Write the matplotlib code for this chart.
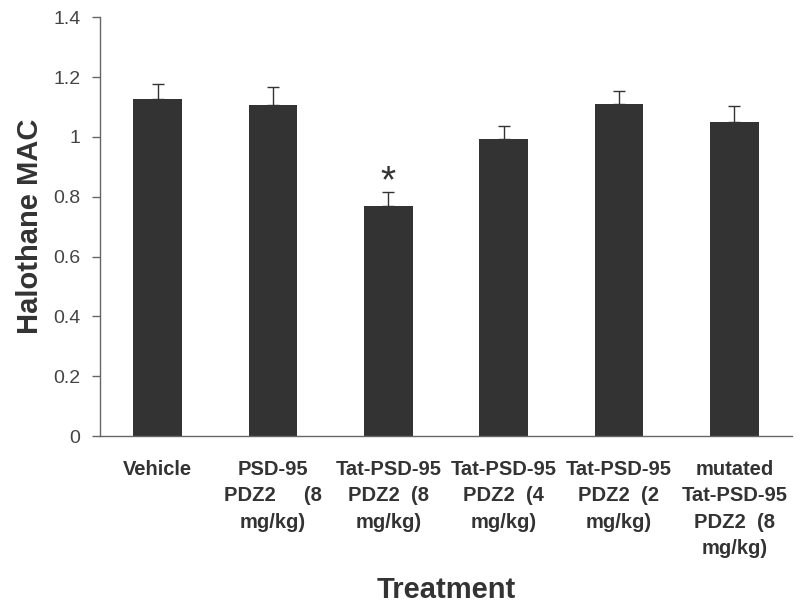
import numpy as np
import matplotlib
matplotlib.use("Agg")
from matplotlib import pyplot as plt

plt.rcParams['font.family'] = ['Liberation Sans', 'DejaVu Sans']

# data
treatments = [
    "Vehicle",
    "PSD-95\nPDZ2     (8\nmg/kg)",
    "Tat-PSD-95\nPDZ2  (8\nmg/kg)",
    "Tat-PSD-95\nPDZ2  (4\nmg/kg)",
    "Tat-PSD-95\nPDZ2  (2\nmg/kg)",
    "mutated\nTat-PSD-95\nPDZ2  (8\nmg/kg)",
]
mac_mean = [1.125, 1.107, 0.768, 0.992, 1.109, 1.049]
mac_sem = [0.053, 0.060, 0.048, 0.044, 0.044, 0.054]
significant = [False, False, True, False, False, False]

y_ticks = [0, 0.2, 0.4, 0.6, 0.8, 1.0, 1.2, 1.4]
y_ticklabels = ["0", "0.2", "0.4", "0.6", "0.8", "1", "1.2", "1.4"]

bar_color = "#333333"
text_color = "#333333"
axis_color = "#666666"

fig = plt.figure(figsize=(8, 6.15), dpi=100)
ax = fig.add_axes([0.125, 0.291, 0.865, 0.681])

x = np.arange(len(treatments))
ax.bar(x, mac_mean, width=0.42, color=bar_color, zorder=2)
# only upper half of the error bars
ax.errorbar(x, mac_mean, yerr=[np.zeros(len(mac_sem)), mac_sem], fmt="none",
            ecolor=bar_color, elinewidth=1.0, capsize=4, capthick=1.0, zorder=1)

for xi, m, s, sig in zip(x, mac_mean, mac_sem, significant):
    if sig:
        ax.text(xi, m + s, "*", ha="center", va="baseline",
                fontsize=28, color=text_color)

ax.set_xlim(-0.5, len(treatments) - 0.5)
ax.set_ylim(0, 1.4)
ax.set_yticks(y_ticks)
ax.set_yticklabels(y_ticklabels, fontsize=14, color="#444444")
ax.set_xticks(x)
ax.set_xticklabels(treatments, fontsize=14.5, fontweight="bold",
                   color=text_color, linespacing=1.5, va="top")
ax.tick_params(axis="x", length=0, pad=17)
ax.tick_params(axis="y", length=6, width=1, color=axis_color, pad=8)

for side in ["top", "right"]:
    ax.spines[side].set_visible(False)
for side in ["left", "bottom"]:
    ax.spines[side].set_color(axis_color)
    ax.spines[side].set_linewidth(1.0)

fig.text(30 / 800, 1 - 226 / 615, "Halothane MAC", rotation=90, ha="center",
         va="center", fontsize=21, fontweight="bold", color=text_color)
fig.text(446 / 800, 1 - 590 / 615, "Treatment", ha="center", va="center",
         fontsize=21, fontweight="bold", color=text_color)

fig.savefig("out.png", dpi=100)
